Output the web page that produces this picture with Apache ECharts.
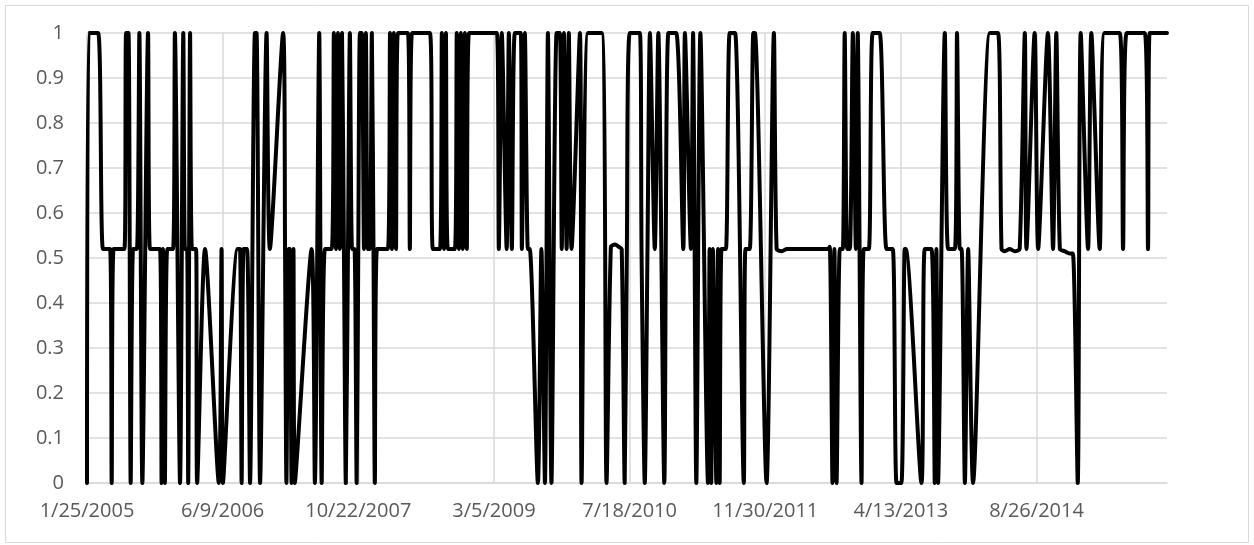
<!DOCTYPE html>
<html>
<head>
<meta charset="utf-8">
<script src="https://cdn.jsdelivr.net/npm/echarts@6/dist/echarts.min.js"></script>
<style>
html, body { margin: 0; padding: 0; background: #fff; }
#chart { width: 1254px; height: 545px; }
</style>
</head>
<body>
<div id="chart"></div>
<script>
// x values are days counted from the first observation (1/25/2005)
const startDate = Date.UTC(2005, 0, 25)

const dayOffsets = [
  0, 6, 41, 59, 85, 91, 98, 138, 144, 153, 161, 170, 184, 193, 204, 225, 232, 251, 269, 275, 280, 287, 296, 317, 324, 343, 355, 361, 369, 373, 380, 387, 402, 406, 435,
  486, 496, 501, 555, 564, 570, 577, 590, 601, 619, 625, 638, 662, 674, 723, 730, 735, 743, 748, 754, 761, 766, 828, 840, 856, 865, 877, 902,
  910, 918, 925, 932, 940, 947, 954, 962, 969, 977, 986, 994, 1000, 1006, 1013, 1021, 1028, 1035, 1043, 1050, 1056, 1061, 1069, 1109, 1117, 1124, 1131, 1139, 1146, 1183, 1190, 1198, 1264, 1275, 1301, 1308, 1316, 1323, 1330,
  1356, 1363, 1371, 1378, 1385, 1393, 1400, 1408, 1511, 1518, 1529, 1547, 1555, 1566, 1577, 1599, 1603, 1614, 1625, 1632, 1662, 1675, 1688, 1699, 1712, 1731, 1743, 1750, 1758, 1768,
  1776, 1786, 1817, 1823, 1847, 1897, 1915, 1931, 1946, 1960, 1971, 1982, 1990, 2001, 2038, 2044, 2056, 2066, 2075, 2093, 2106, 2128, 2143, 2172, 2198,
  2204, 2226, 2234, 2246, 2261, 2289, 2295, 2301, 2307, 2320, 2326, 2332, 2339, 2355, 2369, 2389, 2421, 2427, 2443, 2456, 2462, 2505, 2532, 2542, 2561, 2580,
  2627, 2683, 2731, 2738, 2748, 2755, 2763, 2775, 2786, 2793, 2802, 2812, 2823, 2834, 2841, 2855, 2863, 2882, 2896, 2922, 2947, 2970, 2984, 3002, 3014, 3018, 3076,
  3088, 3113, 3125, 3131, 3137, 3162, 3174, 3199, 3207, 3217, 3224, 3236, 3248, 3266, 3328, 3358, 3371, 3383, 3401, 3420, 3438, 3457, 3463, 3493, 3506, 3542,
  3561, 3573, 3586, 3604, 3622, 3634, 3652, 3663, 3690, 3702, 3733, 3751, 3807, 3819, 3832, 3899, 3911, 3917, 3981
]

const values = [
  0, 1, 1, 0.52, 0.52, 0, 0.52, 0.52, 1, 1, 0, 0.52, 0.52, 1, 0, 1, 0.52, 0.52, 0.52, 0, 0.52, 0, 0.52, 0.52, 1, 0, 1, 0.52, 0.52, 0, 1, 0.52, 0.52, 0, 0.52,
  0, 0.52, 0, 0.52, 0.52, 0, 0.52, 0.52, 0, 1, 1, 0, 1, 0.52, 1, 0.52, 0, 0.52, 0.52, 0, 0.52, 0, 0.52, 0, 1, 0, 0.52, 0.52,
  1, 0.52, 1, 0.52, 1, 0.52, 0, 0.52, 1, 0.52, 0.52, 0, 0.52, 1, 1, 0.52, 1, 0.52, 0.52, 1, 0.52, 0, 0.52, 0.52, 1, 0.52, 1, 0.52, 1, 1, 0.52, 1, 1, 0.52, 0.52, 1, 0.52, 1, 0.52,
  0.52, 1, 0.52, 1, 0.52, 1, 0.52, 1, 1, 0.52, 1, 0.52, 1, 0.52, 1, 1, 0.52, 1, 0.52, 0.52, 0, 0.52, 0, 1, 0, 1, 1, 0.52, 1, 0.52,
  1, 0.52, 1, 0, 1, 1, 0, 0.525, 0.53, 0.525, 0.52, 0, 0.52, 1, 1, 0.52, 0, 0.52, 1, 0.52, 1, 0, 1, 1, 0.52,
  1, 0.52, 1, 0, 1, 0, 0.52, 0, 0.52, 0, 0.52, 0, 0.52, 0.52, 1, 1, 0, 0.52, 0.52, 1, 1, 0, 1, 0.52, 0.515, 0.52,
  0.52, 0.52, 0.52, 0.525, 0, 0.52, 0, 0.52, 0.52, 1, 0.52, 0.52, 1, 0.52, 1, 0, 0.52, 0.52, 1, 1, 0.52, 0.52, 0, 0, 0.52, 0.52, 0,
  0.52, 0.52, 0, 0.52, 0, 1, 0.52, 0.52, 1, 0.52, 0.52, 0, 0.52, 0, 1, 1, 0.52, 0.515, 0.52, 0.515, 0.52, 1, 0.52, 1, 0.52, 1,
  0.52, 1, 0.52, 0.515, 0.51, 0.51, 0, 1, 0.52, 1, 0.52, 1, 1, 0.52, 1, 1, 0.52, 1, 1
]

const lastDay = 3981
const dayStep = 500

function dayLabel (v) {
  const d = new Date(startDate + v * 86400000)
  return (d.getUTCMonth() + 1) + '/' + d.getUTCDate() + '/' + d.getUTCFullYear()
}

const seriesData = dayOffsets.map((d, i) => [d, values[i]])

const chart = echarts.init(document.getElementById('chart'))
chart.setOption({
  animation: false,
  textStyle: { fontFamily: 'Open Sans' },
  graphic: [{
    type: 'rect',
    shape: { x: 5.5, y: 5.5, width: 1243, height: 537 },
    style: { fill: 'none', stroke: '#d9d9d9', lineWidth: 1 }
  }],
  grid: { left: 87, right: 87, top: 33, bottom: 62 },
  xAxis: {
    type: 'value',
    min: 0,
    max: lastDay,
    interval: dayStep,
    axisLine: { lineStyle: { color: '#d9d9d9', width: 1.5 } },
    axisTick: { show: false },
    axisLabel: {
      color: '#595959',
      fontSize: 20,
      margin: 18,
      showMaxLabel: false,
      formatter: dayLabel
    },
    splitLine: { show: true, showMaxLine: false, lineStyle: { color: '#d9d9d9', width: 1.5 } }
  },
  yAxis: {
    type: 'value',
    min: 0,
    max: 1,
    interval: 0.1,
    axisLine: { show: false },
    axisTick: { show: false },
    axisLabel: { color: '#595959', fontSize: 20, margin: 23 },
    splitLine: { lineStyle: { color: '#d9d9d9', width: 1.5 } }
  },
  series: [{
    type: 'line',
    data: seriesData,
    smooth: 0.25,
    symbol: 'none',
    lineStyle: { color: '#000', width: 4, cap: 'round', join: 'round' }
  }]
})
</script>
</body>
</html>
